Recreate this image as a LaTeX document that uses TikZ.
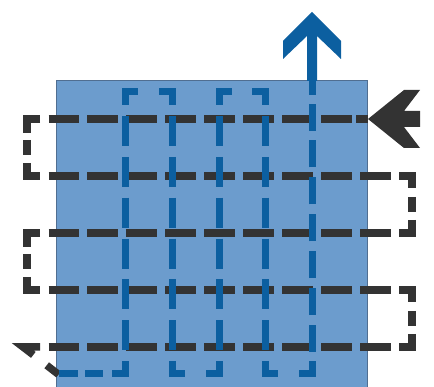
\documentclass[tikz,border=0pt]{standalone}
\definecolor{rectfill}{RGB}{108,156,205}
\definecolor{rectedge}{RGB}{80,110,145}
\definecolor{pathblue}{RGB}{12,95,160}
\definecolor{pathdark}{RGB}{51,51,51}
\begin{document}
\begin{tikzpicture}[x=1pt,y=-1pt,
  panel/.style={fill=rectfill,draw=rectedge,line width=1pt},
  bk/.style={draw=pathdark,line width=7.5pt,line join=miter},
  bl/.style={draw=pathblue,line width=7pt,line join=miter},
  bluehead/.style={fill=pathblue,draw=none},
  darkhead/.style={fill=pathdark,draw=none}]
\useasboundingbox (0,0) rectangle (434,387);
\begin{scope}
\clip (0,0) rectangle (434,387);
% panel
\draw[panel] (56,81) rectangle (367,400);
% ---------- dark route ----------
% row 1 (from the arrow leftwards)
\foreach \k in {0,...,7} {\draw[bk] ({48.5+38.95*\k},119) -- ({79+38.95*\k},119);}
\draw[bk] (356,119) -- (368,119);
% rows 2..5
\foreach \yy in {176,233,290,347} {
  \foreach \k in {0,...,8} {\draw[bk] ({48.5+38.95*\k},\yy) -- ({79+38.95*\k},\yy);}
}
% left turns
\foreach \ya/\yb in {119/176,233/290} {
  \draw[bk] (40,\ya) -- (27,\ya) -- (27,\ya+14);
  \draw[bk] (27,\ya+21) -- (27,\ya+36);
  \draw[bk] (27,\yb-13) -- (27,\yb) -- (40,\yb);
}
% right turns
\foreach \ya/\yb in {176/233,290/347} {
  \draw[bk] (399,\ya) -- (412,\ya) -- (412,\ya+12);
  \draw[bk] (412,\ya+21) -- (412,\ya+36);
  \draw[bk] (412,\yb-13) -- (412,\yb) -- (399,\yb);
}
% bottom-left exit
\draw[bk] (40,347) -- (23,347) -- (33.3,354.9);
\draw[bk] (46.7,365.3) -- (58.6,374.5);
% ---------- blue route ----------
\draw[bl] (59,374) -- (78,374);
\draw[bl] (85,374) -- (103,374);
\draw[bl] (112,374) -- (125,374) -- (125,361);
\foreach \xx in {125,172,219,265} {
  \foreach \k in {0,...,5} {\draw[bl] (\xx,{115.9+40.9*\k}) -- (\xx,{145.9+40.9*\k});}
}
% top hooks
\foreach \xa/\xb in {125/172,219/265} {
  \draw[bl] (\xa,105) -- (\xa,92) -- (\xa+13,92);
  \draw[bl] (\xb-13,92) -- (\xb,92) -- (\xb,105);
}
% bottom hooks
\foreach \xa/\xb in {172/219,265/312} {
  \draw[bl] (\xa,361) -- (\xa,374) -- (\xa+13,374);
  \draw[bl] (\xb-13,374) -- (\xb,374) -- (\xb,361);
}
% last column, upwards
\foreach \k in {0,...,6} {\draw[bl] (312,{352-36.9*\k}) -- (312,{325-36.9*\k});}
\draw[bl] (312,95) -- (312,81);
\end{scope}
% blue arrow (up)
\fill[bluehead] (312,12) -- (283,41) -- (283,59) -- (307,36) -- (307,81) -- (317,81) -- (317,36) -- (341,59) -- (341,41) -- cycle;
% dark arrow (left)
\fill[darkhead] (368,119) -- (404,90) -- (420,90) -- (404,111) -- (420,111) -- (420,127) -- (404,127) -- (420,148) -- (404,148) -- cycle;
\end{tikzpicture}
\end{document}
